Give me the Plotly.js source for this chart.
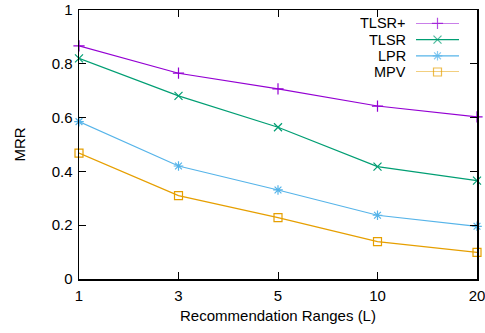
<!DOCTYPE html>
<html><head><meta charset="utf-8">
<script src="https://cdn.plot.ly/plotly-3.0.1.min.js"></script>
<style>html,body{margin:0;padding:0;background:#fff}#c{width:485px;height:333px}</style>
</head><body><div id="c"></div>
<script>
const ranges = ["1","3","5","10","20"];
const seriesNames = ["TLSR+","TLSR","LPR","MPV"];
const tlsrPlus = [0.867, 0.765, 0.707, 0.643, 0.603];
const tlsr     = [0.820, 0.681, 0.564, 0.418, 0.366];
const lpr      = [0.585, 0.420, 0.331, 0.237, 0.196];
const mpv      = [0.468, 0.310, 0.228, 0.139, 0.099];
const yTicks = [0, 0.2, 0.4, 0.6, 0.8, 1];

const allValues = [tlsrPlus, tlsr, lpr, mpv];
const colors = ["#9400d3", "#009e73", "#56b4e9", "#e69f00"];
const symbols = ["cross-thin-open", "x-thin-open", "asterisk-open", "square-open"];
const msizes = [8, 8, 8, 8];
const font = "Liberation Sans, Arial, sans-serif";

// legend geometry (paper coords)
const legTop = 0.950, legBot = 0.7695;
const traces = [];
allValues.forEach((vals, i) => {
  traces.push({
    x: ranges, y: vals, type: "scatter", mode: "lines+markers",
    name: seriesNames[i], showlegend: false,
    line: {color: colors[i], width: 1.2},
    marker: {symbol: symbols[i], size: msizes[i], color: colors[i], line: {color: colors[i], width: 1.2}},
    cliponaxis: false
  });
  // legend key sample drawn on an auxiliary axis pair
  traces.push({
    x: [0, 0.5, 1], y: [i, i, i], xaxis: "x2", yaxis: "y2", type: "scatter", mode: "lines+markers",
    showlegend: false, hoverinfo: "skip",
    line: {color: colors[i], width: 1.2},
    marker: {symbol: symbols[i], size: [0, msizes[i], 0], color: colors[i], line: {color: colors[i], width: 1.2}},
    cliponaxis: false
  });
});

const annotations = seriesNames.map((n, i) => ({
  xref: "paper", yref: "paper", x: 0.824,
  y: legTop - i * (legTop - legBot) / (seriesNames.length - 1),
  text: n, showarrow: false, height: 14, borderpad: 0,
  xanchor: "right", yanchor: "middle", font: {family: font, size: 14.5, color: "#000"}
}));

const layout = {
  width: 485, height: 333,
  margin: {l: 79, r: 8, t: 10, b: 54},
  paper_bgcolor: "#fff", plot_bgcolor: "#fff",
  showlegend: false,
  font: {family: font, size: 15, color: "#000"},
  xaxis: {
    type: "category", range: [0, ranges.length - 1], autorange: false,
    showgrid: false, zeroline: false,
    showline: true, linecolor: "#000", linewidth: 1.5, mirror: "ticks",
    ticks: "inside", ticklen: 7, tickwidth: 1, tickcolor: "#000",
    tickfont: {family: font, size: 15, color: "#000"},
    ticklabelstandoff: 2,
    title: {text: "Recommendation Ranges (L)", font: {family: font, size: 15, color: "#000"}, standoff: 8}
  },
  yaxis: {
    range: [0, 1], autorange: false,
    tickvals: yTicks, ticktext: yTicks.map(v => String(v)),
    showgrid: false, zeroline: false,
    showline: true, linecolor: "#000", linewidth: 1.5, mirror: "ticks",
    ticks: "inside", ticklen: 7, tickwidth: 1, tickcolor: "#000",
    tickfont: {family: font, size: 15, color: "#000"},
    ticklabelstandoff: 2,
    title: {text: "MRR", font: {family: font, size: 15, color: "#000"}, standoff: 22}
  },
  xaxis2: {domain: [0.8467, 0.9548], range: [0, 1], autorange: false, visible: false, anchor: "y2", fixedrange: true},
  yaxis2: {domain: [legBot, legTop], range: [3, 0], autorange: false, visible: false, anchor: "x2", fixedrange: true},
  annotations: annotations
};

Plotly.newPlot("c", traces, layout, {displayModeBar: false, staticPlot: true});
</script>
</body></html>
